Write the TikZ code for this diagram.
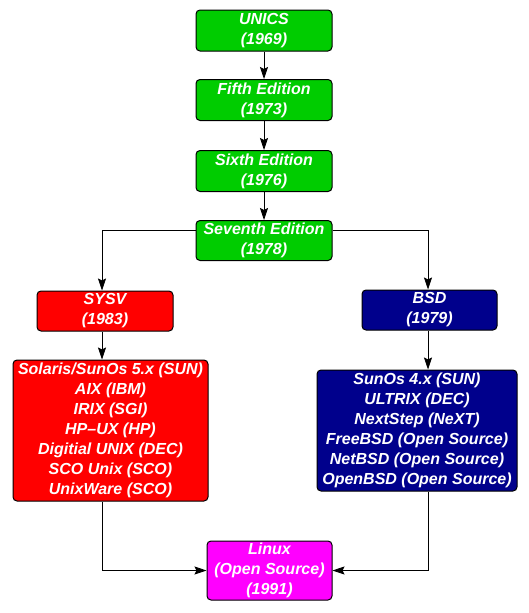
\documentclass[tikz,border=0pt]{standalone}
\usepackage{fontspec}
\setsansfont{Liberation Sans}
\usepackage{xcolor}
\usetikzlibrary{arrows.meta}
\definecolor{unixgreen}{RGB}{0,204,0}
\definecolor{sysvred}{RGB}{255,0,0}
\definecolor{bsdblue}{RGB}{0,0,140}
\definecolor{linuxmagenta}{RGB}{255,0,255}

\begin{document}
\begin{tikzpicture}[x=1pt, y=-1pt,
        box/.style={draw, line width=1pt, rounded corners=4pt, text=white, align=center,
            inner sep=0pt, font=\sffamily\bfseries\itshape\fontsize{16}{20}\selectfont},
        link/.style={line width=0.8pt, -{Stealth[length=12pt, width=8pt, inset=2pt]}}]
            \useasboundingbox (0, 0) rectangle (529, 613);

            \node[box, fill=unixgreen, minimum width=136pt, minimum height=41pt] (unics) at (264, 30.5) {UNICS\\(1969)};
            \node[box, fill=unixgreen, minimum width=136pt, minimum height=41pt] (fifth) at (264, 100) {Fifth Edition\\(1973)};
            \node[box, fill=unixgreen, minimum width=136pt, minimum height=41pt] (sixth) at (264, 171) {Sixth Edition\\(1976)};
            \node[box, fill=unixgreen, minimum width=136pt, minimum height=40pt] (seventh) at (264, 240.5) {Seventh Edition\\(1978)};

            \node[box, fill=sysvred, minimum width=136pt, minimum height=40pt] (sysv) at (105, 311) {SYSV\\(1983)};
            \node[box, fill=bsdblue, minimum width=135pt, minimum height=40pt] (bsd) at (429.5, 310) {BSD\\(1979)};

            \node[box, fill=sysvred, minimum width=195pt, minimum height=141pt] (sysvlist) at (110.5, 430.5)
            {Solaris/SunOs 5.x (SUN)\\AIX (IBM)\\IRIX (SGI)\\HP--UX (HP)\\Digitial UNIX (DEC)\\SCO Unix (SCO)\\UnixWare (SCO)};
            \node[box, fill=bsdblue, minimum width=200pt, minimum height=121pt] (bsdlist) at (417, 430.5)
            {SunOs 4.x (SUN)\\ULTRIX (DEC)\\NextStep (NeXT)\\FreeBSD (Open Source)\\NetBSD (Open Source)\\OpenBSD (Open Source)};

            \node[box, fill=linuxmagenta, minimum width=125pt, minimum height=59pt] (linux) at (269.5, 570.5) {Linux\\(Open Source)\\(1991)};

            \coordinate (lx) at (102, 0);
            \coordinate (rx) at (428, 0);

            \draw[link] (unics) -- (fifth);
            \draw[link] (fifth) -- (sixth);
            \draw[link] (sixth) -- (seventh);

            \draw[link] ([yshift=10pt]seventh.west) -| (sysv.north -| lx);
            \draw[link] ([yshift=10pt]seventh.east) -| (bsd.north -| rx);

            \draw[link] (sysv.south -| lx) -- (sysvlist.north -| lx);
            \draw[link] (bsd.south -| rx) -- (bsdlist.north -| rx);

            \draw[link] (sysvlist.south -| lx) |- (linux.west);
            \draw[link] (bsdlist.south -| rx) |- (linux.east);
        \end{tikzpicture}
\end{document}
